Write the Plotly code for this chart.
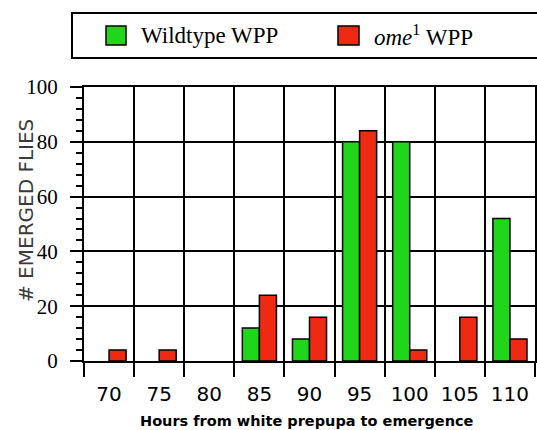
import plotly.graph_objects as go

categories = ["70", "75", "80", "85", "90", "95", "100", "105", "110"]
wildtype = [0, 0, 0, 12, 8, 80, 80, 0, 52]
ome = [4, 4, 0, 24, 16, 84, 4, 16, 8]
yticks = [0, 20, 40, 60, 80, 100]

GREEN = "#1fd61a"
RED = "#ef2a12"

pos = list(range(len(categories)))

def outline(vals):
    return [1.5 if v > 0 else 0 for v in vals]

fig = go.Figure()
fig.add_bar(x=pos, y=wildtype, name="Wildtype WPP",
            marker=dict(color=GREEN, line=dict(color="black", width=outline(wildtype))))
fig.add_bar(x=pos, y=ome, name="ome1 WPP",
            marker=dict(color=RED, line=dict(color="black", width=outline(ome))))

L, R, T, B = 84, 2, 87, 69
W, H = 537, 430
pw, ph = W - L - R, H - T - B

def px(x):
    return (x - L) / pw

def py(y):
    return (H - B - y) / ph

fig.update_layout(
    width=W, height=H,
    margin=dict(l=L, r=R, t=T, b=B, autoexpand=False),
    paper_bgcolor="white", plot_bgcolor="white",
    barmode="group", bargap=0.32, bargroupgap=0,
    showlegend=False,
    xaxis=dict(
        range=[-0.5, len(categories) - 0.5], automargin=False,
        tickmode="array", tickvals=pos, ticktext=categories,
        ticks="", showgrid=False, zeroline=False, ticklabelstandoff=14,
        showline=True, linecolor="black", linewidth=2, mirror=True,
        tickfont=dict(family="DejaVu Sans", size=20, color="black"),
        minor=dict(tickmode="linear", tick0=-0.5, dtick=1, ticks="outside", ticklen=14,
                   tickwidth=2, tickcolor="black", showgrid=True, gridcolor="black", gridwidth=2),
    ),
    yaxis=dict(
        range=[0, 100], tickmode="array", tickvals=yticks, automargin=False,
        ticks="outside", ticklen=12, tickwidth=2, tickcolor="black",
        showgrid=True, gridcolor="black", gridwidth=2, zeroline=False,
        showline=True, linecolor="black", linewidth=2, mirror=True, ticklabelstandoff=8,
        tickfont=dict(family="Liberation Serif", size=21, color="black"),
        minor=dict(dtick=4, ticks="outside", ticklen=6, tickwidth=1.5, tickcolor="black", showgrid=False),
    ),
)

# Legend box drawn manually
fig.add_shape(type="rect", xref="paper", yref="paper",
              x0=px(72), x1=px(545), y0=py(58), y1=py(13),
              line=dict(color="black", width=2), fillcolor="white", layer="above")
fig.add_shape(type="rect", xref="paper", yref="paper",
              x0=px(106), x1=px(126), y0=py(45), y1=py(26),
              line=dict(color="black", width=1.5), fillcolor=GREEN, layer="above")
fig.add_shape(type="rect", xref="paper", yref="paper",
              x0=px(338), x1=px(359), y0=py(45), y1=py(26),
              line=dict(color="black", width=1.5), fillcolor=RED, layer="above")
fig.add_annotation(xref="paper", yref="paper", x=px(139), y=py(35), xanchor="left", yanchor="middle",
                   text="Wildtype WPP", showarrow=False,
                   font=dict(family="Liberation Serif", size=23, color="black"))
fig.add_annotation(xref="paper", yref="paper", x=px(372), y=py(35), xanchor="left", yanchor="middle",
                   text="<i>ome</i><sup>1</sup> WPP", showarrow=False,
                   font=dict(family="Liberation Serif", size=23, color="black"))

# Axis titles
fig.add_annotation(xref="paper", yref="paper", x=px(26), y=py(211), xanchor="center", yanchor="middle",
                   text="# EMERGED FLIES", textangle=-90, showarrow=False,
                   font=dict(family="DejaVu Sans", size=20, color="#3a3a3a"))
fig.add_annotation(xref="paper", yref="paper", x=px(307), y=py(421), xanchor="center", yanchor="middle",
                   text="<b>Hours from white prepupa to emergence</b>", showarrow=False,
                   font=dict(family="DejaVu Sans", size=14.5, color="black"))

fig.write_html("out.html", config={"displayModeBar": False},
               post_script="document.body.style.margin='0';document.body.style.overflow='hidden';")
